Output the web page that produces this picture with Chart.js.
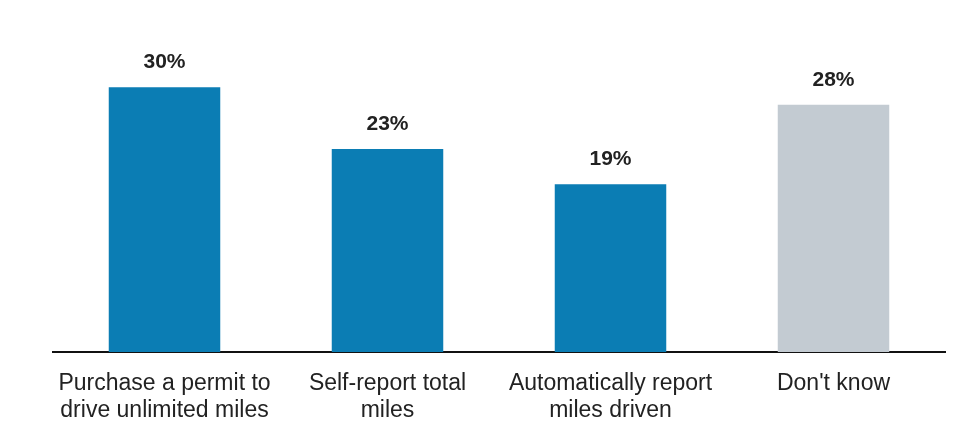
<!DOCTYPE html>
<html>
<head>
<meta charset="utf-8">
<script src="https://cdn.jsdelivr.net/npm/chart.js@4/dist/chart.umd.min.js"></script>
<style>
  html, body { margin: 0; padding: 0; background: #ffffff; }
  #wrap { width: 961px; height: 428px; position: relative; }
</style>
</head>
<body>
<div id="wrap"><canvas id="chart"></canvas></div>
<script>
const categories = [
  ["Purchase a permit to", "drive unlimited miles"],
  ["Self-report total", "miles"],
  ["Automatically report", "miles driven"],
  ["Don't know"]
];
const shares = [30, 23, 19, 28];
const barColors = ["#0b7db4", "#0b7db4", "#0b7db4", "#c3cbd2"];

// draws the "30%" style labels above each bar
const valueLabels = {
  id: "valueLabels",
  afterDatasetsDraw(chart) {
    const ctx = chart.ctx;
    const meta = chart.getDatasetMeta(0);
    ctx.save();
    ctx.font = "bold 21px 'Liberation Sans', Arial, sans-serif";
    ctx.fillStyle = "#222222";
    ctx.textAlign = "center";
    ctx.textBaseline = "alphabetic";
    meta.data.forEach((bar, i) => {
      ctx.fillText(shares[i] + "%", bar.x, bar.y - 19);
    });
    ctx.restore();
  }
};

new Chart(document.getElementById("chart"), {
  type: "bar",
  data: {
    labels: categories,
    datasets: [{
      data: shares,
      backgroundColor: barColors,
      barPercentage: 0.5,
      categoryPercentage: 1
    }]
  },
  options: {
    responsive: true,
    maintainAspectRatio: false,
    animation: false,
    layout: { padding: { left: 53, right: 16, top: 43, bottom: 0 } },
    plugins: {
      legend: { display: false },
      tooltip: { enabled: false }
    },
    scales: {
      x: {
        grid: { display: false, drawTicks: false },
        border: { display: true, color: "#111111", width: 2 },
        afterFit(scale) {
          scale.height = 76;
        },
        ticks: {
          color: "#222222",
          padding: 18,
          maxRotation: 0,
          autoSkip: false,
          font: { family: "'Liberation Sans', Arial, sans-serif", size: 23, lineHeight: 1.17 }
        }
      },
      y: {
        display: false,
        min: 0,
        max: 35
      }
    }
  },
  plugins: [valueLabels]
});
</script>
</body>
</html>
